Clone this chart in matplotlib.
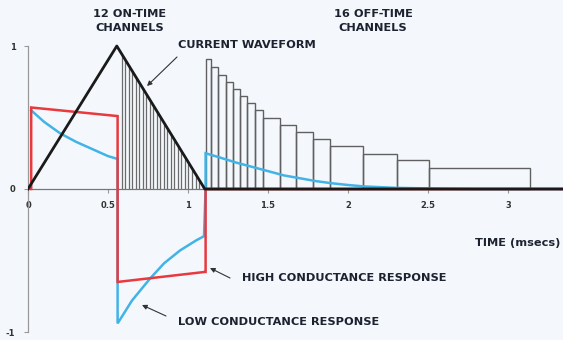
import numpy as np
import matplotlib
matplotlib.use("Agg")
import matplotlib.pyplot as plt

# ---- data ----
wave_x = [0.0, 0.555, 1.105, 3.4]
wave_y = [0.0, 1.0, 0.0, 0.0]

high_x = [0.02, 0.02, 0.56, 0.56, 1.105, 1.11, 1.11, 3.4]
high_y = [0.0, 0.57, 0.51, -0.65, -0.58, -0.58, 0.0, 0.0]

low_x = [0.02, 0.1, 0.2, 0.3, 0.4, 0.5, 0.56,
         0.56, 0.65, 0.76, 0.85, 0.95, 1.05, 1.1,
         1.11, 1.11, 1.2, 1.3, 1.4, 1.5, 1.6, 1.7, 1.8, 1.9, 2.0, 2.1, 2.3, 2.6, 2.8, 3.4]
low_y = [0.55, 0.47, 0.39, 0.33, 0.28, 0.23, 0.21,
         -0.94, -0.78, -0.63, -0.52, -0.43, -0.36, -0.33,
         0.0, 0.25, 0.22, 0.185, 0.155, 0.125, 0.095, 0.075, 0.055, 0.04, 0.028, 0.018, 0.008, 0.002, 0.0, 0.0]

on_lines = [0.585, 0.607, 0.629, 0.651, 0.673, 0.695, 0.717, 0.739, 0.761, 0.783,
            0.805, 0.827, 0.849, 0.871, 0.893, 0.915, 0.937, 0.959, 0.981, 1.003,
            1.025, 1.047, 1.069, 1.091]

off_edges = [1.11, 1.145, 1.19, 1.235, 1.28, 1.325, 1.37, 1.42, 1.47, 1.575,
             1.675, 1.78, 1.89, 2.095, 2.305, 2.505, 3.135]
off_heights = [0.91, 0.855, 0.80, 0.75, 0.70, 0.65, 0.60, 0.55, 0.50, 0.45,
               0.40, 0.35, 0.30, 0.245, 0.20, 0.145]

x_ticks = [0, 0.5, 1, 1.5, 2, 2.5, 3]
x_ticklabels = ["0", "0.5", "1", "1.5", "2", "2.5", "3"]
y_ticks = [-1, 0, 1]
y_ticklabels = ["-1", "0", "1"]

# ---- figure ----
bg = "#f4f8fc"
txt = "#1c2230"
fig = plt.figure(figsize=(5.63, 3.40), dpi=100, facecolor=bg)
ax = fig.add_axes([28 / 563, 0, 1 - 28 / 563, 1])
ax.set_facecolor(bg)
xmax = (563 - 28) / 160
ax.set_xlim(0, xmax)
ax.set_ylim(-(340 - 189) / 143, 189 / 143)

# off-time channels
edges = np.array(off_edges)
ax.bar(edges[:-1], off_heights, width=np.diff(edges), align="edge",
       facecolor="none", edgecolor="#606060", linewidth=1.0, zorder=2)

# on-time channels
ol = np.array(on_lines)
ax.vlines(ol, 0, np.interp(ol, wave_x, wave_y), color="#6a6a6a", linewidth=0.9, zorder=2)

# responses
ax.plot(low_x, low_y, color="#42b3e6", linewidth=1.8, zorder=3, solid_joinstyle="miter")
ax.plot(high_x, high_y, color="#e8393f", linewidth=1.8, zorder=4, solid_joinstyle="miter")
# current waveform
ax.plot(wave_x, wave_y, color="#1a1a1a", linewidth=2.0, zorder=5)

# axes styling
for s in ["top", "right"]:
    ax.spines[s].set_visible(False)
ax.spines["bottom"].set_position(("data", 0))
ax.spines["bottom"].set_color("#777777")
ax.spines["bottom"].set_linewidth(0.9)
ax.spines["left"].set_bounds(-1, 1)
ax.spines["left"].set_color("#999999")
ax.spines["left"].set_linewidth(0.9)
ax.set_xticks(x_ticks)
ax.set_xticklabels(x_ticklabels)
ax.set_yticks(y_ticks)
ax.set_yticklabels(y_ticklabels)
ax.tick_params(axis="x", direction="out", length=3, width=0.8, color="#999999",
               labelsize=6, labelcolor="#333333", pad=6)
ax.tick_params(axis="y", direction="out", length=3, width=0.8, color="#999999",
               labelsize=6, labelcolor="#333333", pad=6)
for lab in ax.get_xticklabels() + ax.get_yticklabels():
    lab.set_fontweight("bold")


def px(xp, yp):
    return (xp - 28) / 160, (189 - yp) / 143


fs = 8.2
kw = dict(color=txt, fontsize=fs, fontweight="bold", zorder=6)
ax.text(*px(130, 14), "12 ON-TIME", ha="center", va="center", **kw)
ax.text(*px(130, 28), "CHANNELS", ha="center", va="center", **kw)
ax.text(*px(373, 14), "16 OFF-TIME", ha="center", va="center", **kw)
ax.text(*px(373, 28), "CHANNELS", ha="center", va="center", **kw)
ax.text(*px(178, 45), "CURRENT WAVEFORM", ha="left", va="center", **kw)
ax.text(*px(560, 243), "TIME (msecs)", ha="right", va="center", **kw)
ax.text(*px(242, 278), "HIGH CONDUCTANCE RESPONSE", ha="left", va="center", **kw)
ax.text(*px(178, 322), "LOW CONDUCTANCE RESPONSE", ha="left", va="center", **kw)

ap = dict(arrowstyle="-|>", lw=0.8, color="#333333", mutation_scale=7, shrinkA=0, shrinkB=0)
ax.annotate("", xy=px(147, 86), xytext=px(177, 57), arrowprops=ap, zorder=6)
ax.annotate("", xy=px(210, 268), xytext=px(230, 278), arrowprops=ap, zorder=6)
ax.annotate("", xy=px(142, 305), xytext=px(166, 316), arrowprops=ap, zorder=6)

fig.savefig("out.png", dpi=100, facecolor=bg)
